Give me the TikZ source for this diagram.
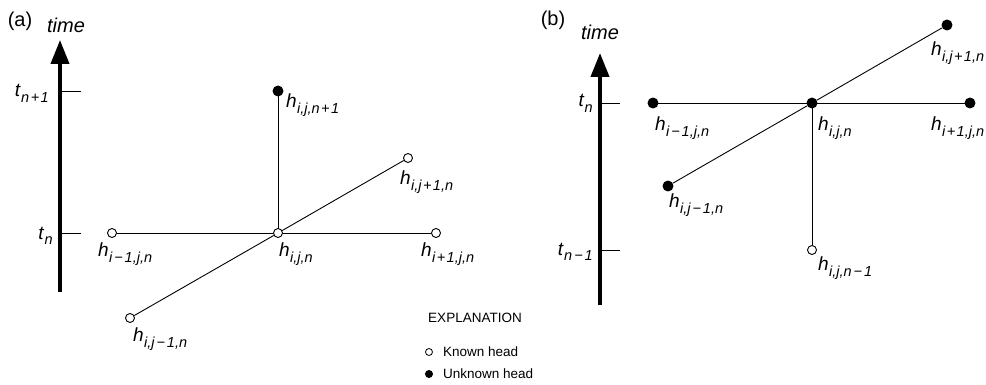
\documentclass[tikz,border=0pt]{standalone}
\usepackage{fontspec}
\setmainfont{Liberation Sans}
\usetikzlibrary{arrows.meta, positioning, calc}
\newcommand{\hsub}[1]{\textit{h}\kern0.3pt\raisebox{-0.55ex}{\fontsize{14.5}{15}\selectfont\itshape #1}}
\newcommand{\tsub}[1]{\textit{t}\kern0.3pt\raisebox{-0.55ex}{\fontsize{14.5}{15}\selectfont\itshape #1}}
\newcommand{\mi}{\kern2pt−\kern2pt}
\newcommand{\pl}{\kern1.5pt+\kern1.5pt}

\begin{document}
\begin{tikzpicture}[x=1pt, y=-1pt,
  known/.style={circle, draw, fill=white, line width=0.9pt, minimum size=9pt, inner sep=0pt},
  unknown/.style={circle, draw, fill=black, line width=0.9pt, minimum size=10pt, inner sep=0pt},
  lbl/.style={anchor=north west, inner sep=0pt, font=\fontsize{19}{22}\selectfont},
  tlbl/.style={anchor=base east, inner sep=0pt, font=\fontsize{19}{22}\selectfont},
  link/.style={line width=0.9pt},
  axis/.style={line width=4pt, -{Triangle[length=24pt, width=18pt]}},
  tick/.style={line width=0.9pt},
  note/.style={inner sep=0pt, font=\fontsize{13.5}{16}\selectfont},
  head/.style={inner sep=0pt, font=\fontsize{20}{22}\selectfont}
]
  \useasboundingbox (0,0) rectangle (986,385);

  % (a) known heads at t_n
  \node[head] (pa) at (20,21) {(a)};
  \node[head, anchor=base, font=\fontsize{20}{22}\selectfont\itshape] (timea) at (66,33) {time};
  \coordinate (abot) at (60,292);
  \coordinate (atop) at (60,40);
  \draw[axis] (abot) -- (atop);
  \coordinate (ta1) at (62,91);
  \coordinate (ta0) at (62,233);
  \draw[tick] (ta1) -- ++(19,0);
  \draw[tick] (ta0) -- ++(19,0);
  \node[tlbl] (lta1) at (49,97) {\tsub{n\pl 1}};
  \node[tlbl] (lta0) at (53,239) {\tsub{n}};

  \node[known]   (a0)  at (278,233) {};
  \node[known]   (aW)  at (112,233) {};
  \node[known]   (aE)  at (436,233) {};
  \node[unknown] (aN)  at (278,91)  {};
  \node[known]   (aNE) at (408,158) {};
  \node[known]   (aSW) at (130,318) {};
  \draw[link] (aW) -- (a0); \draw[link] (a0) -- (aE);
  \draw[link] (aSW) -- (a0); \draw[link] (a0) -- (aNE);
  \draw[link] (a0) -- (aN);

  \node[lbl] (laW)  at ($(aW)+(-14,10)$)  {\hsub{i\mi 1,j,n}};
  \node[lbl] (la0)  at ($(a0)+(1,10)$)    {\hsub{i,j,n}};
  \node[lbl] (laE)  at ($(aE)+(-15,10)$)  {\hsub{i\pl 1,j,n}};
  \node[lbl] (laN)  at ($(aN)+(8,3)$)     {\hsub{i,j,n\pl 1}};
  \node[lbl] (laNE) at ($(aNE)+(-8,13)$)  {\hsub{i,j\pl 1,n}};
  \node[lbl] (laSW) at ($(aSW)+(3,10)$)   {\hsub{i,j\mi 1,n}};

  % (b) unknown heads at t_n
  \node[head] (pb) at (553,20) {(b)};
  \node[head, anchor=base, font=\fontsize{20}{22}\selectfont\itshape] (timeb) at (600,40) {time};
  \coordinate (bbot) at (600,305);
  \coordinate (btop) at (600,53);
  \draw[axis] (bbot) -- (btop);
  \coordinate (tb0) at (602,103);
  \coordinate (tb1) at (602,250);
  \draw[tick] (tb0) -- ++(18,0);
  \draw[tick] (tb1) -- ++(18,0);
  \node[tlbl] (ltb0) at (593,107) {\tsub{n}};
  \node[tlbl] (ltb1) at (593,255) {\tsub{n\mi 1}};

  \node[unknown] (b0)  at (812,103) {};
  \node[unknown] (bW)  at (653,103) {};
  \node[unknown] (bE)  at (970,103) {};
  \node[unknown] (bNE) at (947,25)  {};
  \node[unknown] (bSW) at (668,186) {};
  \node[known]   (bS)  at (812,250) {};
  \draw[link] (bW) -- (b0); \draw[link] (b0) -- (bE);
  \draw[link] (bSW) -- (b0); \draw[link] (b0) -- (bNE);
  \draw[link] (b0) -- (bS);

  \node[lbl] (lbW)  at ($(bW)+(2,14)$)    {\hsub{i\mi 1,j,n}};
  \node[lbl] (lb0)  at ($(b0)+(6,14)$)    {\hsub{i,j,n}};
  \node[lbl] (lbE)  at ($(bE)+(-39,14)$)  {\hsub{i\pl 1,j,n}};
  \node[lbl] (lbNE) at ($(bNE)+(-16,17)$) {\hsub{i,j\pl 1,n}};
  \node[lbl] (lbSW) at ($(bSW)+(1,8)$)    {\hsub{i,j\mi 1,n}};
  \node[lbl] (lbS)  at ($(bS)+(6,7)$)     {\hsub{i,j,n\mi 1}};

  % explanation
  \node[note] (expl) at (475,318) {EXPLANATION};
  \node[known, minimum size=7pt, line width=0.8pt] (kdot) at (429,352) {};
  \node[unknown, minimum size=7pt] (udot) at (429,374) {};
  \node[note, anchor=west] (ktxt) at (443,352) {Known head};
  \node[note, anchor=west] (utxt) at (443,374) {Unknown head};
\end{tikzpicture}
\end{document}
